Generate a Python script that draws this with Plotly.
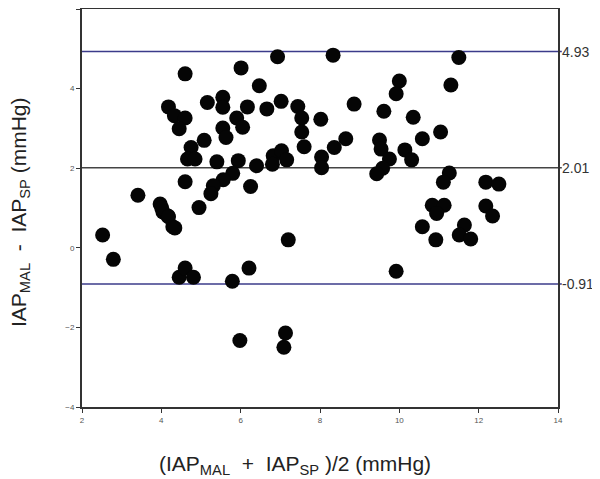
import plotly.graph_objects as go

# Bland-Altman data: mean of the two methods (x) and their difference (y)
mean_iap = [
    2.52, 2.79, 3.41, 3.97, 4.04, 4.17, 4.29, 4.01, 4.18, 4.34,
    4.60, 6.01, 6.93, 8.33, 6.47, 4.18, 4.33, 4.60, 4.45, 5.16,
    5.55, 5.55, 5.90, 6.17, 6.05, 6.66, 7.02, 7.44, 7.54, 7.54,
    7.60, 8.02, 5.55, 5.63, 5.08, 4.75, 4.66, 4.85, 5.40, 5.94,
    5.80, 6.40, 6.82, 7.03, 7.16, 6.80, 8.04, 8.04, 4.60, 5.56,
    5.31, 5.25, 6.25, 4.95, 4.45, 4.60, 4.81, 5.79, 6.21, 7.20,
    5.98, 7.13, 7.09, 11.50, 10.00, 9.92, 11.30, 8.86, 9.61, 10.35,
    8.65, 8.36, 9.50, 9.54, 9.75, 9.58, 9.43, 10.14, 10.31, 10.58,
    11.04, 11.26, 11.11, 12.18, 12.51, 10.83, 11.13, 10.94, 12.18, 12.35,
    10.58, 10.92, 11.64, 11.51, 11.80, 9.92,
]
diff_iap = [
    0.32, -0.29, 1.32, 1.10, 0.90, 0.80, 0.53, 1.00, 0.78, 0.50,
    4.37, 4.52, 4.80, 4.84, 4.07, 3.54, 3.32, 3.26, 2.99, 3.65,
    3.78, 3.53, 3.26, 3.54, 3.03, 3.49, 3.68, 3.55, 3.26, 2.91,
    2.54, 3.23, 3.01, 2.77, 2.70, 2.52, 2.23, 2.23, 2.16, 2.19,
    1.87, 2.06, 2.31, 2.44, 2.21, 2.10, 2.28, 2.01, 1.66, 1.71,
    1.56, 1.36, 1.54, 1.01, -0.74, -0.51, -0.74, -0.84, -0.51, 0.20,
    -2.33, -2.14, -2.50, 4.78, 4.19, 3.87, 4.09, 3.61, 3.43, 3.28,
    2.74, 2.52, 2.71, 2.48, 2.23, 2.00, 1.86, 2.46, 2.21, 2.74,
    2.91, 1.88, 1.65, 1.65, 1.60, 1.07, 1.07, 0.86, 1.05, 0.80,
    0.53, 0.20, 0.57, 0.32, 0.22, -0.59,
]

# limits of agreement and mean bias
limit_values = [4.93, 2.01, -0.91]
limit_labels = ["4.93", "2.01", "-0.91"]
limit_colors = ["#3b3b8a", "#444444", "#3b3b8a"]

x_ticks = [2, 4, 6, 8, 10, 12, 14]
y_ticks = [-4, -2, 0, 2, 4, 6]

x_title = "(IAP<sub>MAL</sub>  +  IAP<sub>SP</sub> )/2 (mmHg)"
y_title = "IAP<sub>MAL</sub>  -  IAP<sub>SP</sub> (mmHg)"

FONT = "Liberation Sans, Arial, sans-serif"

fig = go.Figure()

fig.add_trace(go.Scatter(
    x=mean_iap, y=diff_iap,
    mode="markers",
    marker=dict(size=15, color="#050505", line=dict(width=0)),
    showlegend=False,
))

# horizontal reference lines + labels on the right
for val, lbl, col in zip(limit_values, limit_labels, limit_colors):
    fig.add_shape(
        type="line", xref="paper", x0=0, x1=1.008,
        yref="y", y0=val, y1=val,
        line=dict(color=col, width=1.5),
        layer="below",
    )
    fig.add_annotation(
        xref="paper", x=1, yref="y", y=val,
        text=lbl, showarrow=False,
        xanchor="left", yanchor="middle", xshift=2,
        font=dict(family=FONT, size=14, color="#333333"),
    )

# axis titles as annotations (the x title sits left of centre in the original)
fig.add_annotation(
    xref="paper", x=0.5, yref="paper", y=0,
    text=x_title, showarrow=False,
    xanchor="center", yanchor="middle", xshift=-25, yshift=-58,
    font=dict(family=FONT, size=21, color="#222"),
)
fig.add_annotation(
    xref="paper", x=0, yref="paper", y=0.5,
    text=y_title, showarrow=False, textangle=-90,
    xanchor="center", yanchor="middle", xshift=-62, yshift=-4,
    font=dict(family=FONT, size=21, color="#222"),
)

fig.update_xaxes(
    range=[2, 14],
    tickvals=x_ticks,
    ticks="outside", ticklen=4, tickwidth=1, tickcolor="#333",
    tickfont=dict(family=FONT, size=8, color="#555"),
    showline=True, linecolor="#333", linewidth=2, mirror=True,
    showgrid=False, zeroline=False,
)
fig.update_yaxes(
    range=[-4, 6],
    tickvals=y_ticks,
    ticks="outside", ticklen=4, tickwidth=1, tickcolor="#333",
    tickfont=dict(family=FONT, size=8, color="#555"),
    showline=True, linecolor="#333", linewidth=2, mirror=True,
    showgrid=False, zeroline=False,
)

# page body adds an 8px offset, so the figure is sized a bit smaller
fig.update_layout(
    width=592, height=471,
    margin=dict(l=74, r=42, t=1, b=72, autoexpand=False),
    plot_bgcolor="white",
    paper_bgcolor="white",
)

fig.write_html("out.html")
